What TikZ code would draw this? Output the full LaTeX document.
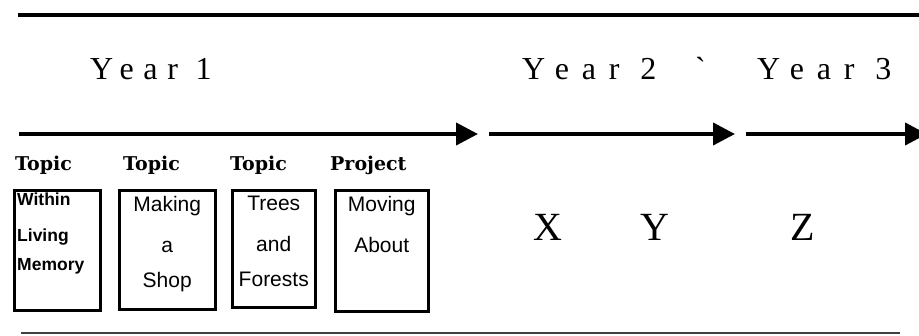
\documentclass[tikz,border=0pt]{standalone}
\usepackage{fontspec}
\setmainfont{Liberation Serif}
\newfontfamily\boxfont{Liberation Sans}
\newfontfamily\labelfont{DejaVu Serif}
\newfontfamily\yearfont[LetterSpace=30]{Liberation Serif}
\newfontfamily\yearfontwide[LetterSpace=40]{Liberation Serif}
\usetikzlibrary{arrows.meta}
\tikzset{
  yearlabel/.style={anchor=base west, inner sep=0pt, font=\yearfont\fontsize{32}{36}\selectfont},
  wideyearlabel/.style={anchor=base west, inner sep=0pt, font=\yearfontwide\fontsize{32}{36}\selectfont},
  topiclabel/.style={anchor=base west, inner sep=0pt, font=\labelfont\bfseries\fontsize{19}{22}\selectfont},
  topicbox/.style={draw, line width=2.5pt, inner sep=0pt, anchor=north west},
  boxtext/.style={anchor=north, inner sep=0pt, align=center, font=\boxfont\fontsize{21}{41}\selectfont},
  smallboxtext/.style={anchor=north west, inner sep=0pt, align=left, font=\boxfont\bfseries\fontsize{17.5}{38}\selectfont},
  bigletter/.style={anchor=base west, inner sep=0pt, font=\fontsize{40}{44}\selectfont},
  timeline/.style={line width=4pt, -{Triangle[length=22pt,width=22pt]}},
  toprule/.style={line width=4pt},
  bottomrule/.style={line width=2pt, draw=black!75},
}
\begin{document}
\begin{tikzpicture}[x=1pt,y=-1pt]
\useasboundingbox (0,0) rectangle (919,335);
% rules
\coordinate (tl) at (18,15);
\coordinate (tr) at (919,15);
\draw[toprule] (tl) -- (tr);
\coordinate (bl) at (21,333);
\coordinate (br) at (900,333);
\draw[bottomrule] (bl) -- (br);
% years
\node[yearlabel] (y1) at (90,79) {Year 1};
\node[wideyearlabel] (y2) at (522,79) {Year 2};
\node[yearlabel] (tick) at (695,79) {\textasciigrave};
\node[wideyearlabel] (y3) at (757,79) {Year 3};
% timeline arrows
\coordinate (a1s) at (19,134);
\coordinate (a1e) at (478,134);
\coordinate (a2s) at (489,134);
\coordinate (a2e) at (735,134);
\coordinate (a3s) at (746,134);
\coordinate (a3e) at (927,134);
\draw[timeline] (a1s) -- (a1e);
\draw[timeline] (a2s) -- (a2e);
\draw[timeline] (a3s) -- (a3e);
% labels
\node[topiclabel] (l1) at (15,170) {Topic};
\node[topiclabel] (l2) at (123,170) {Topic};
\node[topiclabel] (l3) at (230,170) {Topic};
\node[topiclabel] (l4) at (330,170) {Project};
% boxes
\node[topicbox, minimum width=86pt, minimum height=120pt] (b1) at (13,189) {};
\node[topicbox, minimum width=96pt, minimum height=119pt] (b2) at (118,189) {};
\node[topicbox, minimum width=83pt, minimum height=117pt] (b3) at (231,189) {};
\node[topicbox, minimum width=93pt, minimum height=121pt] (b4) at (334,189) {};
\node[smallboxtext] (t1) at (17,193) {Within\\[-2pt]Living\\[-9pt]Memory};
\node[boxtext] (t2) at ([yshift=-7pt]b2.north) {Making\\a\\[-6pt]Shop};
\node[boxtext] (t3) at ([yshift=-7pt]b3.north) {Trees\\and\\[-6pt]Forests};
\node[boxtext] (t4) at ([yshift=-7pt]b4.north) {Moving\\About};
% later years
\node[bigletter] (x) at (533,240) {X};
\node[bigletter] (y) at (640,240) {Y};
\node[bigletter] (z) at (790,240) {Z};
\end{tikzpicture}
\end{document}
